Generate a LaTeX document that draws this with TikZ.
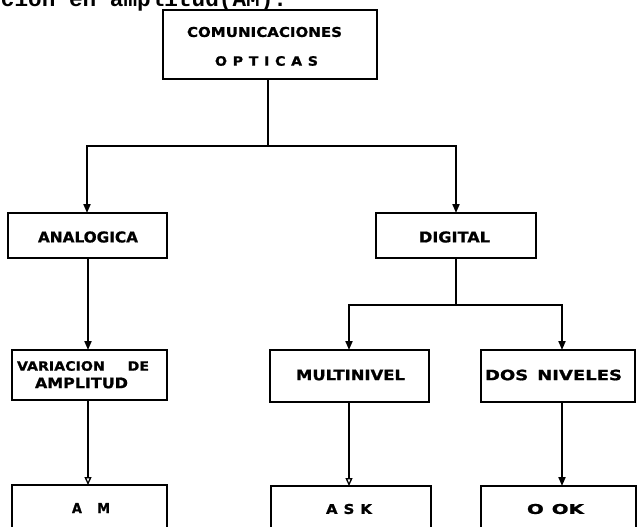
\documentclass[tikz,border=0pt]{standalone}
\usepackage{fontspec}
\usepackage{graphicx}
\setmainfont{DejaVu Sans}
\newfontfamily\lblfont{DejaVu Sans}[BoldFeatures={FakeBold=1}]
\newfontfamily\typefont{Liberation Mono}
\usetikzlibrary{arrows.meta}
\tikzset{
  box/.style={draw, line width=1.9pt, inner sep=0pt, outer sep=0pt},
  lbl/.style={inner sep=0pt, outer sep=0pt, anchor=center},
  conn/.style={line width=1.9pt},
  arr/.style={conn, -{Triangle[length=9pt,width=7pt]}},
  arro/.style={conn, -{Triangle[open,length=8pt,width=7pt,line width=1.3pt]}},
}
\newcommand{\fitlbl}[3]{\resizebox{#1pt}{#2pt}{\lblfont\bfseries #3}}
\newcommand{\spaced}[1]{{\addfontfeatures{LetterSpace=40}#1}}
\begin{document}
\begin{tikzpicture}[x=1pt,y=-1pt]
\useasboundingbox (0,0) rectangle (637,527);
\clip (0,0) rectangle (637,527);

% clipped line of typewritten text at the top
\node[inner sep=0pt, outer sep=0pt, anchor=base west] (head) at (1,6.5)
  {\resizebox{286pt}{!}{\typefont\bfseries cion en amplitud(AM).}};

% boxes
\node[box, minimum width=214pt, minimum height=69pt] (top) at (270,44.5) {};
\node[box, minimum width=159pt, minimum height=45pt] (ana) at (87.5,235.5) {};
\node[box, minimum width=160pt, minimum height=45pt] (dig) at (456,235.5) {};
\node[box, minimum width=155pt, minimum height=50pt] (var) at (89.5,375) {};
\node[box, minimum width=159pt, minimum height=52pt] (mul) at (349.5,376) {};
\node[box, minimum width=154pt, minimum height=52pt] (dos) at (558,376) {};
\node[box, minimum width=155pt, minimum height=46pt] (am)  at (89.5,508) {};
\node[box, minimum width=160pt, minimum height=46pt] (ask) at (351,509) {};
\node[box, minimum width=155pt, minimum height=46pt] (ook) at (558.5,509) {};

% labels
\node[lbl] (t1) at (264.5,32) {\fitlbl{155}{10}{COMUNICACIONES}};
\node[lbl] (t2) at (266.5,61) {\fitlbl{103}{9.5}{\spaced{OPTICAS}}};
\node[lbl] (t3) at (88,237) {\fitlbl{100}{11}{ANALOGICA}};
\node[lbl] (t4) at (454.5,237) {\fitlbl{71}{11}{DIGITAL}};
\node[lbl] (t5) at (83,366) {\fitlbl{132}{9.5}{VARIACION\hspace{1.6em}DE}};
\node[lbl] (t6) at (81.5,383) {\fitlbl{93}{10.5}{AMPLITUD}};
\node[lbl] (t7) at (350.5,375) {\fitlbl{109}{10.5}{MULTINIVEL}};
\node[lbl] (t8) at (553.5,375) {\fitlbl{137}{10.5}{DOS\hspace{0.5em}NIVELES}};
\node[lbl] (t9) at (91,508) {\fitlbl{38}{10}{A\hspace{1.2em}M}};
\node[lbl] (t10) at (349,509) {\fitlbl{46}{10}{\spaced{ASK}}};
\node[lbl] (t11) at (555.5,509) {\fitlbl{57}{10}{O\hspace{0.4em}OK}};

% connectors
\coordinate (j1) at (268,146);
\draw[conn] (top.south -| j1) -- (j1);
\coordinate (an) at ([xshift=-0.5pt]ana.north);
\draw[arr] (j1) -| (an);
\draw[arr] (j1) -| (dig.north);

\coordinate (j2) at (456,305);
\draw[conn] (dig.south) -- (j2);
\coordinate (mn) at ([xshift=-0.5pt]mul.north);
\draw[arr] (j2) -| (mn);
\coordinate (dn) at ([xshift=4pt]dos.north);
\draw[arr] (j2) -| (dn);

\coordinate (as) at ([xshift=0.5pt]ana.south);
\draw[arr] (as) -- (as |- var.north);
\coordinate (vs) at ([xshift=-1.5pt]var.south);
\draw[arro] (vs) -- (vs |- am.north);
\coordinate (ms) at ([xshift=-0.5pt]mul.south);
\draw[arro] (ms) -- (ms |- ask.north);
\coordinate (ds) at ([xshift=4pt]dos.south);
\draw[arr] (ds) -- (ds |- ook.north);
\end{tikzpicture}
\end{document}
